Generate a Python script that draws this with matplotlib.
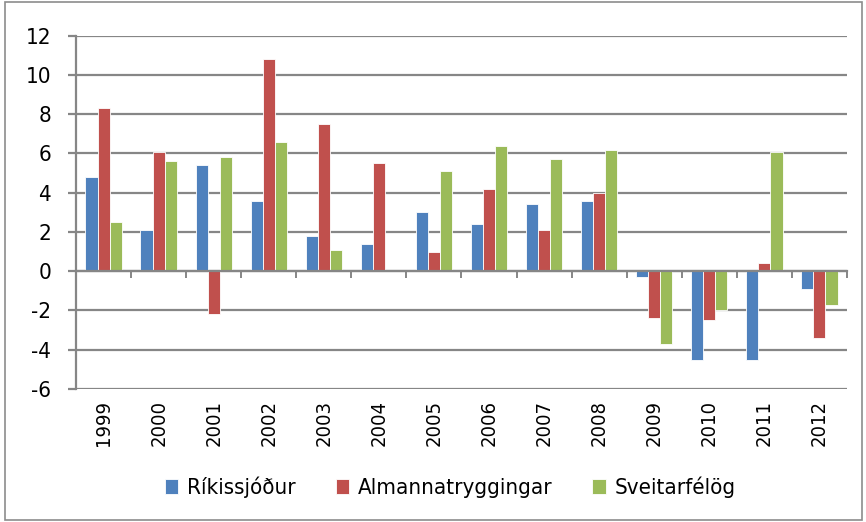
import matplotlib
matplotlib.use("Agg")
import matplotlib.pyplot as plt
import matplotlib.patches as mpatches
import matplotlib.transforms as mtransforms
import numpy as np

years = ["1999", "2000", "2001", "2002", "2003", "2004", "2005",
         "2006", "2007", "2008", "2009", "2010", "2011", "2012"]
rikissjodur = [4.8, 2.1, 5.4, 3.6, 1.8, 1.4, 3.0, 2.4, 3.4, 3.6, -0.3, -4.5, -4.5, -0.9]
almannatryggingar = [8.3, 6.1, -2.2, 10.8, 7.5, 5.5, 1.0, 4.2, 2.1, 4.0, -2.4, -2.5, 0.4, -3.4]
sveitarfelog = [2.5, 5.6, 5.8, 6.6, 1.1, 0.05, 5.1, 6.4, 5.7, 6.2, -3.7, -2.0, 6.1, -1.7]
series_names = ["Ríkissjóður", "Almannatryggingar", "Sveitarfélög"]
yticks = [-6, -4, -2, 0, 2, 4, 6, 8, 10, 12]

colors = ["#4F81BD", "#C0504D", "#9BBB59"]
grid_c = "#868686"
plt.rcParams["font.family"] = ["DejaVu Sans"]
plt.rcParams["font.stretch"] = "condensed"

fig = plt.figure(figsize=(8.66, 5.22), dpi=100)
ax = fig.add_axes([0.0878, 0.2548, 0.978 - 0.0878, 0.9316 - 0.2548])

x = np.arange(len(years))
w = 0.22
for i, (vals, name) in enumerate(zip([rikissjodur, almannatryggingar, sveitarfelog], series_names)):
    ax.bar(x + (i - 1) * w, vals, width=w, color=colors[i], edgecolor="white",
           linewidth=0.6, label=name, zorder=3)

ax.set_xlim(-0.5, len(years) - 0.5)
ax.set_ylim(-6, 12)
ax.set_yticks(yticks)
ax.set_yticklabels([str(v) for v in yticks], fontsize=16, fontstretch="condensed")
ax.yaxis.grid(True, color=grid_c, linewidth=1.6, zorder=0)
ax.set_axisbelow(True)

for s in ["top", "right"]:
    ax.spines[s].set_visible(False)
ax.spines["left"].set_color(grid_c)
ax.spines["left"].set_linewidth(1.6)
ax.spines["bottom"].set_position(("data", 0))
ax.spines["bottom"].set_color(grid_c)
ax.spines["bottom"].set_linewidth(1.6)
ax.spines["bottom"].set_zorder(4)

ax.tick_params(axis="y", length=6, width=1.6, color=grid_c, pad=12, labelcolor="black")
ax.set_xticks([])
ax.set_xticks(np.arange(-0.5, len(years), 1.0), minor=True)
ax.tick_params(axis="x", which="minor", length=5, width=1.4, color=grid_c, direction="out")

trans = mtransforms.blended_transform_factory(ax.transData, ax.transAxes)
for xi, yr in zip(x, years):
    ax.text(xi, -0.03, yr, rotation=90, ha="center", va="top", fontsize=14.5,
            fontstretch="condensed", transform=trans)

leg = fig.legend(loc="center", bbox_to_anchor=(0.52, 0.066), ncol=3, frameon=False,
                 prop={"size": 16, "stretch": "condensed"},
                 handlelength=0.6, handleheight=0.6, handletextpad=0.4,
                 columnspacing=1.8)

fig.patches.append(mpatches.Rectangle((0.006, 0.003), 0.989, 0.994, transform=fig.transFigure,
                                      fill=False, edgecolor="#8c8c8c", linewidth=1.2))

fig.savefig("out.png", dpi=100)
